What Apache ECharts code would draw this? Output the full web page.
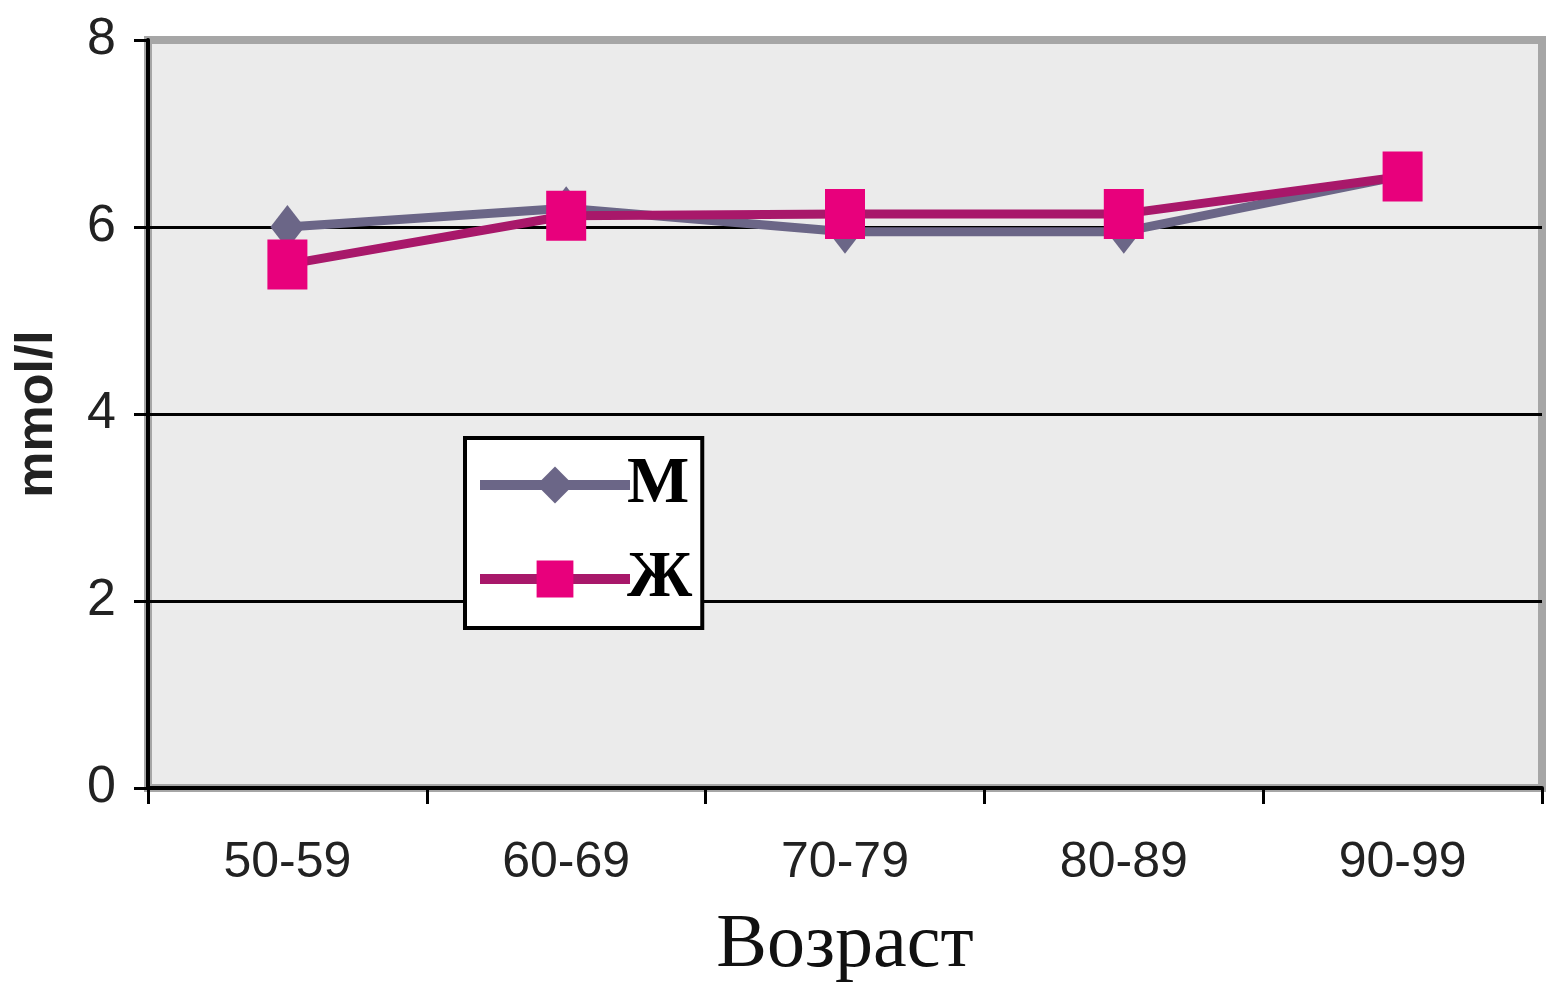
<!DOCTYPE html>
<html><head><meta charset="utf-8">
<script src="https://cdn.jsdelivr.net/npm/echarts@6/dist/echarts.min.js"></script>
<style>html,body{margin:0;padding:0;background:#fff}#c{width:1554px;height:998px}</style>
</head><body><div id="c"></div>
<script>
const categories = ['50-59','60-69','70-79','80-89','90-99'];
const maleValues = [6.0, 6.2, 5.95, 5.95, 6.55];
const femaleValues = [5.6, 6.12, 6.14, 6.14, 6.54];
const yTicks = [0, 2, 4, 6, 8];

const chart = echarts.init(document.getElementById('c'));
chart.setOption({
  animation: false,
  backgroundColor: '#ffffff',
  grid: {left: 148, right: 12, top: 40, bottom: 210, show: true, backgroundColor: '#ebebeb', borderColor: '#a6a6a6', borderWidth: 8},
  legend: {
    left: 465, top: 438, orient: 'vertical',
    backgroundColor: '#ffffff', borderColor: '#000', borderWidth: 4,
    padding: [14, 10, 16, 10], itemGap: 28, itemWidth: 150, itemHeight: 46,
    lineStyle: {width: 10},
    textStyle: {fontFamily: 'Liberation Serif, DejaVu Serif, serif', fontWeight: 'bold', fontSize: 66, color: '#000', padding: [0,0,0,-8]},
    data: [{name: 'М'}, {name: 'Ж'}]
  },
  xAxis: {
    type: 'category', data: categories, boundaryGap: true,
    name: 'Возраст', nameLocation: 'middle', nameGap: 120,
    nameTextStyle: {fontFamily: 'Liberation Serif, DejaVu Serif, serif', fontSize: 76, color: '#111'},
    axisLine: {show: true, lineStyle: {color: '#000', width: 4}},
    axisTick: {show: true, length: 16, lineStyle: {color: '#000', width: 3}},
    axisLabel: {fontFamily: 'Liberation Sans, Arial, sans-serif', fontSize: 50, color: '#222', margin: 50},
    splitLine: {show: false}
  },
  yAxis: {
    type: 'value', min: yTicks[0], max: yTicks[yTicks.length-1], interval: 2,
    name: 'mmol/l', nameLocation: 'middle', nameGap: 84, nameRotate: 90,
    nameTextStyle: {fontFamily: 'Liberation Sans, sans-serif', fontSize: 52, fontWeight: 'bold', color: '#222'},
    axisLine: {show: true, lineStyle: {color: '#000', width: 4}},
    axisTick: {show: true, length: 14, lineStyle: {color: '#000', width: 3}},
    axisLabel: {fontFamily: 'Liberation Sans, Arial, sans-serif', fontSize: 52, color: '#222', margin: 32},
    splitLine: {show: true, showMaxLine: false, lineStyle: {color: '#000', width: 3}}
  },
  series: [
    {name: 'М', type: 'line', data: maleValues, symbol: 'diamond', symbolSize: [34, 44],
     lineStyle: {color: '#6b6687', width: 9}, itemStyle: {color: '#6b6687'}, z: 2},
    {name: 'Ж', type: 'line', data: femaleValues, symbol: 'rect', symbolSize: [40, 50],
     lineStyle: {color: '#a8186a', width: 9}, itemStyle: {color: '#e8007c'}, z: 3}
  ]
});
</script></body></html>
